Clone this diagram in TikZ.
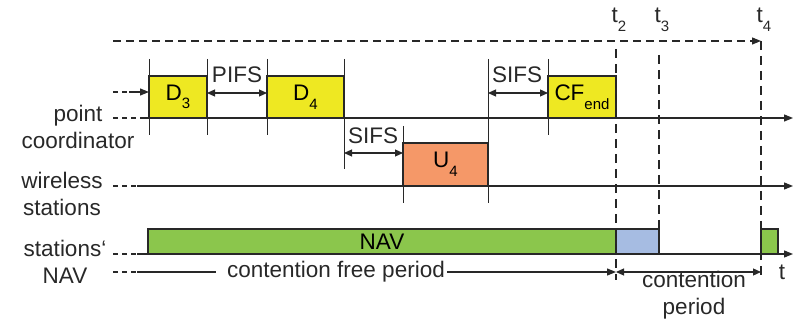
\documentclass[tikz,border=0pt]{standalone}
\usepackage{fontspec}
\setmainfont{Liberation Sans}
\usetikzlibrary{arrows.meta}
\definecolor{cyel}{RGB}{238,232,34}
\definecolor{corg}{RGB}{245,152,104}
\definecolor{cgrn}{RGB}{139,198,76}
\definecolor{cblu}{RGB}{166,188,226}
\definecolor{cline}{RGB}{40,40,40}
\newcommand\sbs[1]{\raisebox{-0.38em}{\fontsize{15}{15}\selectfont #1}}
\tikzset{
  box/.style={draw=cline,line width=1.2pt,inner sep=0pt,outer sep=0pt,anchor=south west,font=\fontsize{22.5}{27}\selectfont},
  axis/.style={draw=cline,line width=1.2pt,-{Triangle[length=9pt,width=7pt]}},
  lead/.style={draw=cline,line width=1.1pt,dash pattern=on 5pt off 4pt},
  tick/.style={draw=cline,line width=1pt},
  span/.style={draw=cline,line width=1.2pt,{Triangle[length=8pt,width=7pt]}-{Triangle[length=8pt,width=7pt]}},
  tline/.style={draw=black!85,line width=2.2pt,dash pattern=on 9pt off 6pt},
  lbl/.style={font=\fontsize{22.5}{27}\selectfont,text=cline,inner sep=0pt},
  llbl/.style={font=\fontsize{22.5}{27}\selectfont,text=cline,align=center,inner sep=0pt}
}
\begin{document}
\begin{tikzpicture}[x=1pt,y=-1pt]
\useasboundingbox (0,0) rectangle (794,320);
% boxes
\node[box,fill=cyel,minimum width=58pt,minimum height=42pt] (d3) at (149,118) {D\sbs{3}};
\node[box,fill=cyel,minimum width=77pt,minimum height=42pt] (d4) at (267,118) {D\sbs{4}};
\node[box,fill=corg,minimum width=85pt,minimum height=43pt] (u4) at (403,186) {U\sbs{4}};
\node[box,fill=cyel,minimum width=68pt,minimum height=42pt] (cf) at (548,118) {CF\sbs{end}};
\node[box,fill=cgrn,minimum width=468pt,minimum height=25pt] (nav) at (148,254) {NAV};
\node[box,fill=cblu,minimum width=43pt,minimum height=25pt] (cp) at (616,254) {};
\node[box,fill=cgrn,minimum width=17pt,minimum height=25pt] (nav2) at (761,254) {};
% coordinates
\coordinate (pc0) at (113,118); \coordinate (pc1) at (140,118); \coordinate (pc2) at (793,118);
\coordinate (ws0) at (113,186); \coordinate (ws1) at (137,186); \coordinate (ws2) at (793,186);
\coordinate (nv0) at (113,254); \coordinate (nv1) at (137,254); \coordinate (nv2) at (793,254);
\coordinate (cf0) at (113,272); \coordinate (cf1) at (137,272); \coordinate (cf2) at (216,272);
\coordinate (cf3) at (447,272); \coordinate (cf4) at (616,272); \coordinate (cf5) at (761,272);
\coordinate (in0) at (113,92); \coordinate (in1) at (129,92); \coordinate (in2) at (149,92);
\coordinate (top0) at (113,41); \coordinate (top1) at (761,41);
% axes
\draw[lead] (pc0) -- (pc1);
\draw[axis] (pc1) -- (pc2);
\draw[lead] (ws0) -- (ws1);
\draw[axis] (ws1) -- (ws2);
\draw[lead] (nv0) -- (nv1);
\draw[axis] (nv1) -- (nv2);
\draw[lead] (in0) -- (in1);
\draw[draw=cline,line width=1.2pt,-{Triangle[length=9pt,width=7pt]}] (in1) -- (in2);
% ticks
\coordinate (k1a) at (149,59); \coordinate (k1b) at (149,135);
\coordinate (k2a) at (207,59); \coordinate (k2b) at (207,135);
\coordinate (k3a) at (267,59); \coordinate (k3b) at (267,135);
\coordinate (k4a) at (344,59); \coordinate (k4b) at (344,169);
\coordinate (k5a) at (403,126); \coordinate (k5b) at (403,203);
\coordinate (k6a) at (488,59); \coordinate (k6b) at (488,203);
\coordinate (k7a) at (548,59); \coordinate (k7b) at (548,135);
\foreach \k in {1,...,7} {\draw[tick] (k\k a) -- (k\k b);}
% spans
\coordinate (s1a) at (207,93); \coordinate (s1b) at (267,93);
\coordinate (s2a) at (344,153); \coordinate (s2b) at (403,153);
\coordinate (s3a) at (488,93); \coordinate (s3b) at (548,93);
\draw[span] (s1a) -- (s1b);
\draw[span] (s2a) -- (s2b);
\draw[span] (s3a) -- (s3b);
\node[lbl] (pifs) at (237,75) {PIFS};
\node[lbl] (sifs1) at (373,136) {SIFS};
\node[lbl] (sifs2) at (517,75) {SIFS};
% top dashed
\draw[draw=cline,line width=1.2pt,dash pattern=on 8pt off 5pt,-{Triangle[length=9pt,width=7pt]}] (top0) -- (top1);
% t lines
\coordinate (t2a) at (616,49); \coordinate (t2b) at (616,280);
\coordinate (t3a) at (659,55); \coordinate (t3b) at (659,229);
\coordinate (t4a) at (761,41); \coordinate (t4b) at (761,280);
\draw[tline] (t2a) -- (t2b);
\draw[tline] (t3a) -- (t3b);
\draw[tline] (t4a) -- (t4b);
\node[lbl] (t2) at (619,20) {t\sbs{2}};
\node[lbl] (t3) at (662,20) {t\sbs{3}};
\node[lbl] (t4) at (764,20) {t\sbs{4}};
% periods
\draw[lead] (cf0) -- (cf1);
\draw[draw=cline,line width=1.2pt] (cf1) -- (cf2);
\node[lbl] (cfp) at (336,272) {contention free period};
\draw[draw=cline,line width=1.2pt,-{Triangle[length=9pt,width=7pt]}] (cf3) -- (cf4);
\draw[span] (cf4) -- (cf5);
\node[llbl] (cpl) at (694,295) {contention\\period};
\node[lbl] (t) at (782,272) {t};
% left labels
\node[llbl] (lpc) at (78,127) {point\\coordinator};
\node[llbl] (lws) at (62,194) {wireless\\stations};
\node[llbl] (lnv) at (65,262) {stations‘\\NAV};
\end{tikzpicture}
\end{document}
